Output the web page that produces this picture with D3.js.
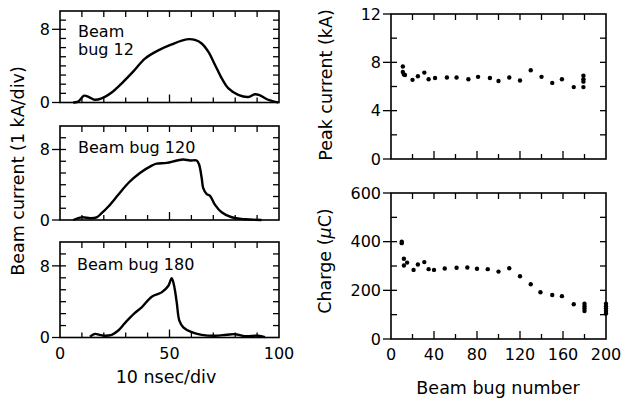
<!DOCTYPE html>
<html>
<head>
<meta charset="utf-8">
<script src="https://cdn.jsdelivr.net/npm/d3@7"></script>
<style>
  body { margin: 0; background: #fff; }
  svg { display: block; font-family: "DejaVu Sans", sans-serif; }
  text { fill: #000; }
</style>
</head>
<body>
<script>
// Beam current traces, [time (10 nsec/div units), current (kA)]
const bug12 = [[6,0],[8.3,0.1],[11,0.75],[13,0.62],[15.7,0.3],[19,0.45],[23.6,1.1],[28.2,2.1],[33.5,3.4],[38.8,4.8],[44.9,5.7],[51,6.35],[57.8,6.9],[61.6,6.84],[64.7,6.45],[67.7,5.55],[70.8,4.1],[73.8,2.66],[76.8,1.57],[81.4,0.84],[86,0.6],[89,0.9],[91.3,0.78],[95.1,0.3],[99.7,0]];
const bug120 = [[6,0],[9.9,0.3],[13.9,0.2],[16.7,0.3],[19,0.77],[22.1,1.53],[26.6,2.86],[31.2,4.2],[36.5,5.34],[41.9,6.17],[44.1,6.4],[48.7,6.48],[53.3,6.75],[56.3,6.86],[59.4,6.75],[62.4,6.75],[63.5,6.3],[64.7,4.77],[65.4,3.62],[67,2.94],[68.5,2.75],[70.8,1.72],[73.8,0.88],[78.4,0.31],[84.5,0.08],[92,0]];
const bug180 = [[13.7,0.1],[16,0.4],[18,0.3],[20.5,0.2],[23.6,0.3],[26.6,0.78],[29.7,1.63],[34.2,2.74],[37.3,3.37],[41.9,4.56],[46.4,5.04],[49.5,5.78],[51,6.63],[52.1,5.78],[53.3,3.92],[54.5,1.89],[56.3,1.14],[60.1,0.6],[64.7,0.3],[70.8,0.2],[76,0.3],[79.9,0.37],[84.5,0.15],[90.5,0.2],[93.6,0.05]];

// Peak current vs beam bug number
const peakBug = [11,11,12,13,20,25,31,35,41,52,61,72,81,92,100,110,120,130,140,150,159,170,179,179,179,179];
const peakKA  = [7.65,7.2,7.0,6.95,6.55,6.85,7.15,6.6,6.7,6.75,6.75,6.6,6.8,6.7,6.45,6.75,6.5,7.35,6.8,6.3,6.6,5.95,6.9,6.6,6.4,5.95];

// Charge vs beam bug number
const chargeBug = [10,10,12,12,15,21,25,31,35,40,50,61,71,80,90,100,110,120,130,139,150,159,170,180,180,180,180,200,200,200,200,200];
const chargeUC  = [400,394,330,302,314,284,306,316,287,284,290,293,294,289,287,277,291,258,225,192,181,176,143,145,135,125,115,145,135,125,115,105];

const traceTicks = [0, 50, 100];
const bugTicks = [0, 40, 80, 120, 160, 200];

const svg = d3.select("body").append("svg")
    .attr("width", 622)
    .attr("height", 401);

// Draw a framed panel with inward minor ticks and outward labelled ticks
function panel(x, y, opt) {
    const g = svg.append("g");
    const [x0, x1] = x.range();
    const [y0, y1] = y.range(); // y0 bottom, y1 top

    g.append("rect")
        .attr("x", x0).attr("y", y1)
        .attr("width", x1 - x0).attr("height", y0 - y1)
        .attr("fill", "none").attr("stroke", "#000").attr("stroke-width", 1.6);

    const tick = g.append("g").attr("stroke", "#000").attr("stroke-width", 1.3);

    // top and bottom inward ticks
    opt.xMinor.forEach(v => {
        const big = opt.xMajor.includes(v);
        tick.append("line").attr("x1", x(v)).attr("x2", x(v))
            .attr("y1", y1).attr("y2", y1 + 6);
        tick.append("line").attr("x1", x(v)).attr("x2", x(v))
            .attr("y1", y0).attr("y2", y0 - (big ? 8 : 5));
    });
    // left and right inward ticks
    opt.yMinor.forEach(v => {
        tick.append("line").attr("x1", x0).attr("x2", x0 + 6)
            .attr("y1", y(v)).attr("y2", y(v));
        tick.append("line").attr("x1", x1).attr("x2", x1 - 6)
            .attr("y1", y(v)).attr("y2", y(v));
    });
    // outward labelled y ticks
    opt.yMajor.forEach(v => {
        tick.append("line").attr("x1", x0 - 8).attr("x2", x0)
            .attr("y1", y(v)).attr("y2", y(v));
        g.append("text")
            .attr("x", x0 - 10).attr("y", y(v))
            .attr("dy", "0.36em")
            .attr("text-anchor", "end")
            .attr("font-size", 16)
            .text(v);
    });
    if (opt.xLabels) {
        opt.xLabels.forEach(v => {
            g.append("text")
                .attr("x", x(v)).attr("y", y0 + 21)
                .attr("text-anchor", "middle")
                .attr("font-size", 16)
                .text(v);
        });
    }
    return g;
}

// Left: beam current traces
const xt = d3.scaleLinear().domain([0, 100]).range([60, 279]);
const traces = [
    { data: bug12, y: d3.scaleLinear().domain([0, 10]).range([102.5, 11]), step: 1, lines: ["Beam", "bug 12"], lx: 78, ly: 36.5 },
    { data: bug120, y: d3.scaleLinear().domain([0, 32 / 3]).range([220, 126]), step: 4 / 3, lines: ["Beam bug 120"], lx: 78, ly: 153 },
    { data: bug180, y: d3.scaleLinear().domain([0, 32 / 3]).range([337.5, 242]), step: 4 / 3, lines: ["Beam bug 180"], lx: 77, ly: 269.5 }
];

traces.forEach((p, i) => {
    const minor = d3.range(1, 11).map(k => k * p.step).filter(v => v < p.y.domain()[1] - 0.1);
    const g = panel(xt, p.y, {
        xMinor: d3.range(10, 100, 10),
        xMajor: [50],
        yMinor: minor,
        yMajor: [0, 8],
        xLabels: i === 2 ? traceTicks : null
    });
    const line = d3.line()
        .x(d => xt(d[0]))
        .y(d => p.y(d[1]))
        .curve(d3.curveCatmullRom.alpha(0.5));
    g.append("path")
        .datum(p.data)
        .attr("d", line)
        .attr("fill", "none")
        .attr("stroke", "#000")
        .attr("stroke-width", 2.4)
        .attr("stroke-linejoin", "round");
    p.lines.forEach((s, k) => {
        g.append("text")
            .attr("x", p.lx).attr("y", p.ly + k * 18.5)
            .attr("font-size", 16)
            .text(s);
    });
});

// Right: peak current and charge
const xb = d3.scaleLinear().domain([0, 200]).range([391, 606]);
const yPeak = d3.scaleLinear().domain([0, 12]).range([159, 14]);
const yCharge = d3.scaleLinear().domain([0, 600]).range([339, 193]);

const gPeak = panel(xb, yPeak, {
    xMinor: d3.range(20, 200, 20),
    xMajor: [40, 80, 120, 160],
    yMinor: [2, 4, 6, 8, 10],
    yMajor: [0, 4, 8, 12]
});
gPeak.append("g").selectAll("circle")
    .data(d3.zip(peakBug, peakKA))
    .join("circle")
    .attr("cx", d => xb(d[0]))
    .attr("cy", d => yPeak(d[1]))
    .attr("r", 2.2)
    .attr("fill", "#000");

const gCharge = panel(xb, yCharge, {
    xMinor: d3.range(20, 200, 20),
    xMajor: [40, 80, 120, 160],
    yMinor: [100, 200, 300, 400, 500],
    yMajor: [0, 200, 400, 600],
    xLabels: bugTicks
});
gCharge.append("g").selectAll("circle")
    .data(d3.zip(chargeBug, chargeUC))
    .join("circle")
    .attr("cx", d => xb(d[0]))
    .attr("cy", d => yCharge(d[1]))
    .attr("r", 2.2)
    .attr("fill", "#000");

// Axis titles
svg.append("text")
    .attr("transform", "translate(24,171) rotate(-90)")
    .attr("text-anchor", "middle")
    .attr("font-size", 17.5)
    .text("Beam current (1 kA/div)");

svg.append("text")
    .attr("x", 166).attr("y", 383)
    .attr("text-anchor", "middle")
    .attr("font-size", 17.5)
    .text("10 nsec/div");

svg.append("text")
    .attr("transform", "translate(332,85) rotate(-90)")
    .attr("text-anchor", "middle")
    .attr("font-size", 17.5)
    .text("Peak current (kA)");

const ch = svg.append("text")
    .attr("transform", "translate(331,261) rotate(-90)")
    .attr("text-anchor", "middle")
    .attr("font-size", 17.5);
ch.append("tspan").text("Charge (");
ch.append("tspan").attr("font-style", "italic").text("\u03bc");
ch.append("tspan").text("C)");

svg.append("text")
    .attr("x", 498).attr("y", 394)
    .attr("text-anchor", "middle")
    .attr("font-size", 17.5)
    .text("Beam bug number");
</script>
</body>
</html>
